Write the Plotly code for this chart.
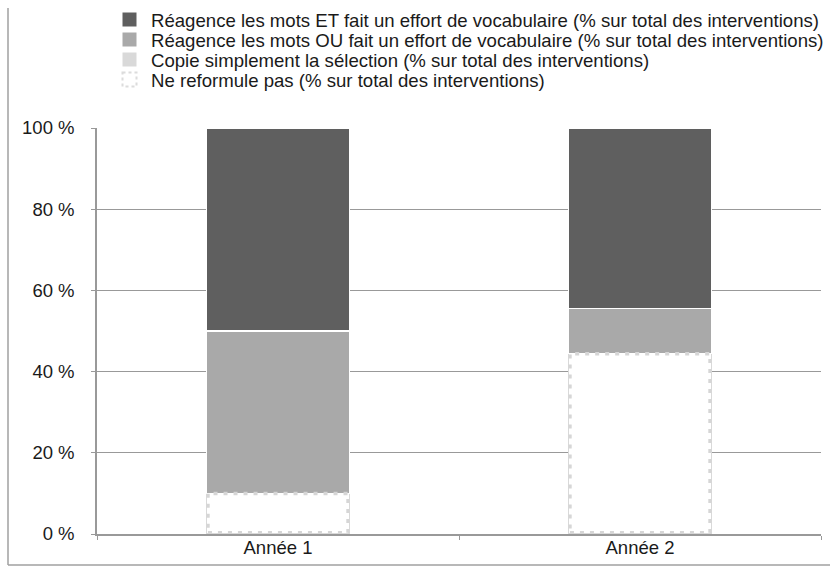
import plotly.graph_objects as go

# Data
categories = ["Année 1", "Année 2"]
ne_reformule = [10.0, 44.4]
copie = [0.0, 0.0]
reagence_ou = [40.0, 11.1]
reagence_et = [50.0, 44.5]

series_names = [
    "Ne reformule pas (% sur total des interventions)",
    "Copie simplement la sélection (% sur total des interventions)",
    "Réagence les mots OU fait un effort de vocabulaire (% sur total des interventions)",
    "Réagence les mots ET fait un effort de vocabulaire (% sur total des interventions)",
]
y_ticks = [0, 20, 40, 60, 80, 100]
y_tick_labels = ["0 %", "20 %", "40 %", "60 %", "80 %", "100 %"]

W, H = 830, 569
L, R, T, B = 97, 9, 128, 35
pw, ph = W - L - R, H - T - B
bar_w = 0.395
xpos = list(range(len(categories)))
FONT = "Liberation Sans, Arial, Helvetica, sans-serif"

def px_x(p):
    return (p - L) / pw

def px_y(p):
    return (H - B - p) / ph

fig = go.Figure()

fill = ["white", "#d9d9d9", "#a9a9a9", "#5f5f5f"]
line_col = ["#d9d9d9", "white", "white", "white"]
for vals, name, fc, lc in zip([ne_reformule, copie, reagence_ou, reagence_et], series_names, fill, line_col):
    fig.add_trace(go.Bar(
        x=xpos, y=vals, name=name, width=bar_w,
        marker=dict(color=fc, line=dict(color=lc, width=1.2)),
        showlegend=False, hoverinfo="skip",
    ))

# dotted outline of the "Ne reformule pas" segments
shapes = []
for i, v in zip(xpos, ne_reformule):
    shapes.append(dict(type="rect", xref="x", yref="y",
                       x0=i - bar_w / 2 + 0.004, x1=i + bar_w / 2 - 0.004, y0=0.3, y1=v,
                       line=dict(color="#d6d6d6", width=3.5, dash="4px,6px"),
                       fillcolor="rgba(0,0,0,0)", layer="above"))

# outer frame (left and bottom edges)
shapes.append(dict(type="line", xref="paper", yref="paper",
                   x0=px_x(8), x1=px_x(8), y0=px_y(8), y1=px_y(565),
                   line=dict(color="#a0a0a0", width=1.5)))
shapes.append(dict(type="line", xref="paper", yref="paper",
                   x0=px_x(8), x1=px_x(835), y0=px_y(565), y1=px_y(565),
                   line=dict(color="#a0a0a0", width=1.5)))

# legend: top row is the top segment of the stack
annotations = []
legend_rows = list(zip(series_names[::-1], fill[::-1]))
for k, (name, fc) in enumerate(legend_rows):
    cy = 19.5 + 20 * k
    dashed = fc == "white"
    shapes.append(dict(type="rect", xref="paper", yref="paper",
                       x0=px_x(122.5), x1=px_x(136.5), y0=px_y(cy - 7), y1=px_y(cy + 7),
                       fillcolor=fc,
                       line=dict(color="#dcdcdc" if dashed else fc, width=2 if dashed else 0,
                                 dash="3px,3px" if dashed else "solid")))
    annotations.append(dict(xref="paper", yref="paper", x=px_x(149), y=px_y(cy + 1),
                            xanchor="left", yanchor="middle", showarrow=False,
                            text=name, font=dict(family=FONT, size=18.6, color="#1a1a1a")))

fig.update_layout(
    width=W, height=H,
    margin=dict(l=L, r=R, t=T, b=B),
    barmode="stack",
    plot_bgcolor="white", paper_bgcolor="white",
    font=dict(family=FONT, size=18, color="#1a1a1a"),
    shapes=shapes,
    annotations=annotations,
    showlegend=False,
    xaxis=dict(
        range=[-0.5, 1.5],
        tickvals=[-0.5, 0.5, 1.5], ticktext=["", "", ""],
        ticks="outside", ticklen=4, tickcolor="#999",
        showline=True, linecolor="#999", linewidth=1.5,
        showgrid=False, zeroline=False,
    ),
    xaxis2=dict(
        range=[-0.5, 1.5], overlaying="x", anchor="y", side="bottom",
        tickvals=xpos, ticktext=categories, ticks="",
        showline=False, showgrid=False, zeroline=False,
        tickfont=dict(family=FONT, size=18.5, color="#1a1a1a"),
    ),
    yaxis=dict(
        range=[0, 100], tickvals=y_ticks, ticktext=y_tick_labels,
        ticks="outside", ticklen=4, tickcolor="#999",
        showline=True, linecolor="#999", linewidth=1.5,
        showgrid=True, gridcolor="#999", gridwidth=1.2,
        zeroline=False, ticklabelstandoff=13,
        tickfont=dict(family=FONT, size=18.5, color="#1a1a1a"),
    ),
)

# invisible trace to bring the label axis into the layout
fig.add_trace(go.Scatter(x=xpos, y=[None, None], xaxis="x2", showlegend=False, hoverinfo="skip"))

fig.write_html("out.html")
